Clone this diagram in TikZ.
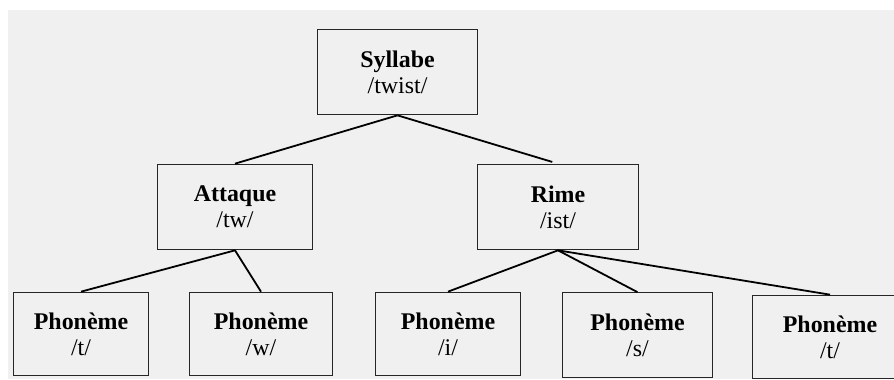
\documentclass[tikz,border=0pt]{standalone}
\usepackage{fontspec}
\setmainfont{Liberation Serif}
\begin{document}
\begin{tikzpicture}[x=1bp,y=1bp,
  box/.style={draw=black!85, line width=1bp, inner sep=0pt, align=center,
    font=\fontsize{24}{26}\selectfont, text=black},
  link/.style={line width=1.8bp, black}]
\useasboundingbox (0,0) rectangle (894,379);
\clip (0,0) rectangle (894,379);
\fill[white] (0,0) rectangle (894,379);
\fill[black!6] (8,0) rectangle (894,369);
\node[box, minimum width=161, minimum height=86] (syl) at (397.5,307) {\textbf{Syllabe}\\/twist/};
\node[box, minimum width=156, minimum height=86] (att) at (235,172) {\textbf{Attaque}\\/tw/};
\node[box, minimum width=162, minimum height=86] (rime) at (558,172) {\textbf{Rime}\\/ist/};
\node[box, minimum width=136, minimum height=84] (p1) at (81,45) {\textbf{Phonème}\\/t/};
\node[box, minimum width=144, minimum height=84] (p2) at (261,45) {\textbf{Phonème}\\/w/};
\node[box, minimum width=146, minimum height=84] (p3) at (448,45) {\textbf{Phonème}\\/i/};
\node[box, minimum width=151, minimum height=85] (p4) at (637.5,44) {\textbf{Phonème}\\/s/};
\node[box, minimum width=156, minimum height=84] (p5) at (830,42) {\textbf{Phonème}\\/t/};
\draw[link] (syl.south) -- (att.north);
\draw[link, shorten >=6bp] (syl.south) -- (rime.north);
\draw[link] (att.south) -- (p1.north);
\draw[link] (att.south) -- (p2.north);
\draw[link] (rime.south) -- (p3.north);
\draw[link] (rime.south) -- (p4.north);
\draw[link] (rime.south) -- (p5.north);
\end{tikzpicture}
\end{document}
